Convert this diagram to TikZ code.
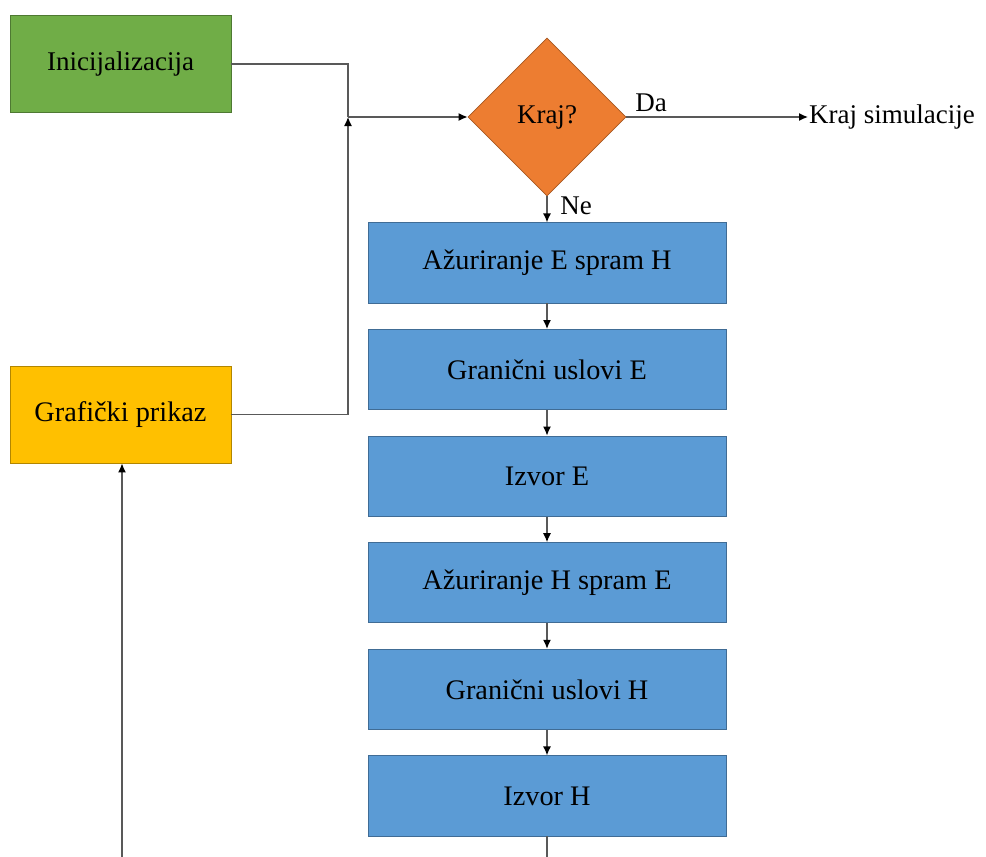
\documentclass[tikz,border=0pt]{standalone}
\usepackage{fontspec}
\setmainfont{Liberation Serif}
\usetikzlibrary{shapes.geometric,positioning,arrows.meta}

\definecolor{zelena}{HTML}{70AD47}
\definecolor{zuta}{HTML}{FFC000}
\definecolor{narandzasta}{HTML}{ED7D31}
\definecolor{plava}{HTML}{5B9BD5}

\begin{document}
\begin{tikzpicture}[x=1pt, y=-1pt,
  tekst/.style={font=\fontsize{27}{32}\selectfont},
  blok/.style={rectangle, font=\fontsize{28.3}{33}\selectfont, draw=#1!70!black, fill=#1, line width=0.8pt,
    minimum width=221pt, minimum height=97pt, inner sep=0pt},
  korak/.style={blok=plava, minimum width=358pt, minimum height=80.2pt},
  linija/.style={draw=black!65, line width=1.3pt},
  veza/.style={linija, -{Latex[black,length=9pt,width=8pt]}},
  node distance=25.6pt]

\useasboundingbox (0,0) rectangle (986,857);

\node[blok=zelena, tekst] (init) at (120.5,64) {Inicijalizacija};
\node[blok=zuta] (graf) at (120.5,414.5) {Grafički prikaz};

\node[diamond, tekst, draw=narandzasta!70!black, fill=narandzasta, line width=0.8pt,
  minimum width=158pt, minimum height=158pt, aspect=1, inner sep=0pt] (kraj) at (547,117) {Kraj?};
\node[tekst, anchor=west, inner sep=1pt] (krajsim) at (808,117) {Kraj simulacije};

%Petlja
\node[korak, below=26pt of kraj] (azurE) {Ažuriranje E spram H};
\node[korak, below=of azurE] (granE) {Granični uslovi E};
\node[korak, below=of granE] (izvE) {Izvor E};
\node[korak, below=of izvE] (azurH) {Ažuriranje H spram E};
\node[korak, below=of azurH] (granH) {Granični uslovi H};
\node[korak, below=of granH] (izvH) {Izvor H};

\coordinate (spoj) at (348,117);
\coordinate (dnoL) at (122,857);
\coordinate (dnoD) at (547,857);

\draw[linija] (init.east) -| (spoj);
\draw[veza] (graf.east) -| (spoj);
\draw[veza] (spoj) -- (kraj.west);
\draw[veza] (kraj.east) -- (krajsim.west);
\draw[veza] (kraj.south) -- (azurE.north);
\node[tekst] (da) at (651,103) {Da};
\node[tekst] (ne) at (576,206) {Ne};

\draw[veza] (azurE) -- (granE);
\draw[veza] (granE) -- (izvE);
\draw[veza] (izvE) -- (azurH);
\draw[veza] (azurH) -- (granH);
\draw[veza] (granH) -- (izvH);
\draw[linija] (izvH) -- (dnoD);
\draw[veza] (dnoL) -- (dnoL |- graf.south);

\end{tikzpicture}
\end{document}
